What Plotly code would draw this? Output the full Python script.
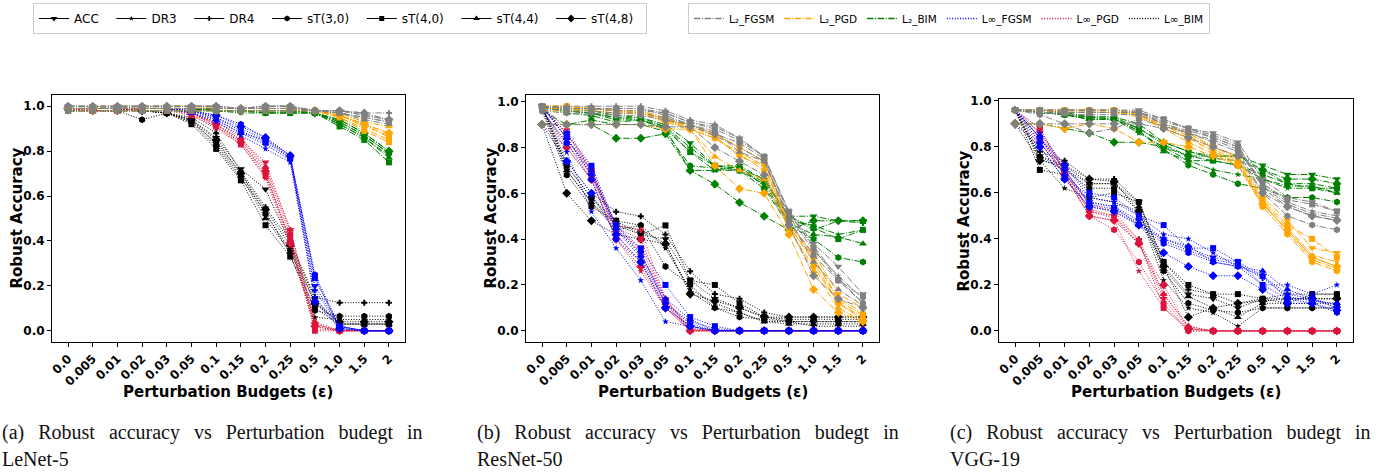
import plotly.graph_objects as go

# ---------------- data ----------------
EPS = ["0.0", "0.005", "0.01", "0.02", "0.03", "0.05", "0.1", "0.15", "0.2", "0.25", "0.5", "1.0", "1.5", "2"]
MODELS = ["ACC", "DR3", "DR4", "sT(3,0)", "sT(4,0)", "sT(4,4)", "sT(4,8)"]
ATTACKS = ["L2_FGSM", "L2_PGD", "L2_BIM", "Linf_FGSM", "Linf_PGD", "Linf_BIM"]
ATTACK_LABELS = ["L\u2082_FGSM", "L\u2082_PGD", "L\u2082_BIM", "L\u221e_FGSM", "L\u221e_PGD", "L\u221e_BIM"]
CAPTIONS = [("(a)", "LeNet-5"), ("(b)", "ResNet-50"), ("(c)", "VGG-19")]
Y_TICKS = [0.0, 0.2, 0.4, 0.6, 0.8, 1.0]

# (a) LeNet-5 : rows = ACC, DR3, DR4, sT(3,0), sT(4,0), sT(4,4), sT(4,8)
A_L2_FGSM = [
    [1.00, 1.00, 1.00, 1.00, 1.00, 1.00, 1.00, 0.99, 1.00, 1.00, 0.98, 0.98, 0.96, 0.94],
    [0.99, 0.99, 0.99, 0.99, 0.99, 0.99, 0.99, 0.99, 0.99, 0.99, 0.98, 0.97, 0.95, 0.93],
    [0.99, 0.99, 0.99, 0.99, 0.99, 0.99, 0.99, 0.99, 0.99, 0.99, 0.98, 0.98, 0.97, 0.97],
    [1.00, 1.00, 1.00, 1.00, 1.00, 1.00, 1.00, 0.99, 1.00, 1.00, 0.98, 0.98, 0.96, 0.94],
    [0.98, 0.98, 0.98, 0.98, 0.98, 0.98, 0.98, 0.98, 0.98, 0.98, 0.98, 0.97, 0.95, 0.93],
    [1.00, 1.00, 0.99, 1.00, 1.00, 1.00, 1.00, 0.99, 1.00, 1.00, 0.98, 0.97, 0.94, 0.92],
    [1.00, 1.00, 1.00, 1.00, 1.00, 1.00, 1.00, 0.99, 1.00, 1.00, 0.98, 0.98, 0.97, 0.94],
]
A_L2_PGD = [
    [0.99, 0.99, 0.99, 0.99, 0.99, 0.99, 0.99, 0.99, 0.99, 0.99, 0.98, 0.96, 0.92, 0.88],
    [0.99, 0.99, 0.99, 0.99, 0.99, 0.99, 0.99, 0.99, 0.99, 0.99, 0.98, 0.95, 0.90, 0.85],
    [0.99, 0.99, 0.99, 0.99, 0.99, 0.99, 0.99, 0.99, 0.99, 0.99, 0.98, 0.96, 0.91, 0.87],
    [0.99, 0.99, 0.99, 0.99, 0.99, 0.99, 0.99, 0.99, 0.99, 0.99, 0.98, 0.96, 0.92, 0.86],
    [0.98, 0.98, 0.98, 0.98, 0.98, 0.98, 0.98, 0.98, 0.98, 0.98, 0.98, 0.95, 0.89, 0.84],
    [1.00, 1.00, 1.00, 1.00, 1.00, 1.00, 0.99, 0.99, 0.99, 0.99, 0.98, 0.97, 0.93, 0.91],
    [0.99, 0.99, 0.99, 0.99, 0.99, 0.99, 0.99, 0.99, 0.99, 0.99, 0.98, 0.96, 0.92, 0.88],
]
A_L2_BIM = [
    [0.99, 0.99, 0.99, 0.99, 0.99, 0.99, 0.98, 0.98, 0.98, 0.98, 0.97, 0.93, 0.87, 0.79],
    [0.98, 0.98, 0.98, 0.98, 0.98, 0.98, 0.98, 0.97, 0.97, 0.97, 0.97, 0.92, 0.86, 0.78],
    [0.99, 0.99, 0.99, 0.99, 0.99, 0.99, 0.98, 0.98, 0.98, 0.98, 0.97, 0.94, 0.88, 0.80],
    [0.99, 0.99, 0.99, 0.99, 0.99, 0.99, 0.98, 0.98, 0.97, 0.97, 0.97, 0.93, 0.87, 0.79],
    [0.98, 0.98, 0.98, 0.98, 0.98, 0.98, 0.98, 0.98, 0.97, 0.97, 0.97, 0.91, 0.85, 0.75],
    [0.99, 0.99, 0.99, 0.99, 0.99, 0.99, 0.98, 0.98, 0.98, 0.98, 0.97, 0.92, 0.86, 0.77],
    [0.99, 0.99, 0.99, 0.99, 0.99, 0.99, 0.98, 0.98, 0.98, 0.98, 0.97, 0.94, 0.88, 0.80],
]
A_LINF_FGSM = [
    [0.99, 0.99, 0.99, 0.99, 0.99, 0.98, 0.95, 0.90, 0.85, 0.77, 0.20, 0.02, 0.00, 0.00],
    [0.99, 0.99, 0.99, 0.99, 0.99, 0.97, 0.93, 0.87, 0.81, 0.75, 0.15, 0.01, 0.00, 0.00],
    [0.99, 0.99, 0.99, 0.99, 0.99, 0.98, 0.94, 0.88, 0.83, 0.76, 0.18, 0.02, 0.00, 0.00],
    [0.99, 0.99, 0.99, 0.99, 0.99, 0.98, 0.96, 0.92, 0.86, 0.78, 0.25, 0.02, 0.00, 0.00],
    [0.98, 0.98, 0.98, 0.98, 0.98, 0.98, 0.95, 0.89, 0.84, 0.77, 0.24, 0.01, 0.00, 0.00],
    [0.99, 0.99, 0.99, 0.99, 0.99, 0.97, 0.94, 0.88, 0.85, 0.78, 0.23, 0.02, 0.00, 0.00],
    [0.99, 0.99, 0.99, 0.99, 0.99, 0.98, 0.96, 0.91, 0.86, 0.78, 0.13, 0.01, 0.00, 0.00],
]
A_LINF_PGD = [
    [0.99, 0.98, 0.98, 0.99, 0.99, 0.97, 0.92, 0.85, 0.75, 0.45, 0.03, 0.00, 0.00, 0.00],
    [0.99, 0.98, 0.98, 0.99, 0.99, 0.96, 0.90, 0.83, 0.68, 0.38, 0.01, 0.00, 0.00, 0.00],
    [0.99, 0.98, 0.98, 0.99, 0.99, 0.97, 0.91, 0.84, 0.70, 0.40, 0.02, 0.00, 0.00, 0.00],
    [0.99, 0.98, 0.98, 0.99, 0.99, 0.97, 0.92, 0.85, 0.72, 0.43, 0.03, 0.00, 0.00, 0.00],
    [0.98, 0.98, 0.98, 0.98, 0.98, 0.96, 0.91, 0.83, 0.69, 0.41, 0.00, 0.00, 0.00, 0.00],
    [0.99, 0.98, 0.98, 0.99, 0.99, 0.97, 0.93, 0.86, 0.73, 0.45, 0.04, 0.00, 0.00, 0.00],
    [0.99, 0.98, 0.98, 0.99, 0.99, 0.97, 0.92, 0.84, 0.71, 0.39, 0.02, 0.00, 0.00, 0.00],
]
A_LINF_BIM = [
    [0.99, 0.99, 0.99, 0.98, 0.97, 0.94, 0.86, 0.72, 0.63, 0.39, 0.14, 0.03, 0.03, 0.03],
    [0.99, 0.99, 0.99, 0.98, 0.97, 0.93, 0.82, 0.68, 0.53, 0.34, 0.06, 0.05, 0.05, 0.05],
    [0.99, 0.99, 0.99, 0.98, 0.97, 0.95, 0.88, 0.71, 0.55, 0.40, 0.15, 0.125, 0.125, 0.125],
    [0.98, 0.98, 0.98, 0.94, 0.97, 0.93, 0.84, 0.70, 0.52, 0.36, 0.09, 0.065, 0.065, 0.065],
    [0.98, 0.98, 0.98, 0.98, 0.97, 0.92, 0.81, 0.67, 0.47, 0.33, 0.10, 0.03, 0.03, 0.03],
    [0.99, 0.99, 0.99, 0.98, 0.97, 0.94, 0.83, 0.69, 0.50, 0.35, 0.13, 0.03, 0.03, 0.03],
    [0.99, 0.99, 0.99, 0.98, 0.97, 0.94, 0.85, 0.70, 0.54, 0.38, 0.12, 0.04, 0.04, 0.04],
]

# (b) ResNet-50
B_L2_FGSM = [
    [0.98, 0.97, 0.97, 0.97, 0.97, 0.95, 0.91, 0.89, 0.84, 0.76, 0.52, 0.38, 0.28, 0.16],
    [0.97, 0.96, 0.96, 0.95, 0.95, 0.93, 0.90, 0.85, 0.80, 0.74, 0.50, 0.35, 0.24, 0.14],
    [0.98, 0.98, 0.98, 0.98, 0.98, 0.96, 0.92, 0.90, 0.84, 0.76, 0.51, 0.37, 0.23, 0.12],
    [0.96, 0.95, 0.95, 0.94, 0.94, 0.92, 0.90, 0.86, 0.82, 0.75, 0.48, 0.33, 0.22, 0.12],
    [0.98, 0.97, 0.97, 0.96, 0.96, 0.95, 0.91, 0.88, 0.83, 0.76, 0.52, 0.36, 0.22, 0.15],
    [0.98, 0.97, 0.97, 0.97, 0.97, 0.94, 0.90, 0.87, 0.78, 0.74, 0.49, 0.30, 0.18, 0.11],
    [0.90, 0.90, 0.90, 0.90, 0.90, 0.89, 0.89, 0.80, 0.74, 0.68, 0.46, 0.24, 0.14, 0.10],
]
B_L2_PGD = [
    [0.98, 0.98, 0.97, 0.96, 0.96, 0.92, 0.90, 0.86, 0.80, 0.74, 0.46, 0.34, 0.16, 0.10],
    [0.97, 0.97, 0.96, 0.95, 0.95, 0.92, 0.88, 0.84, 0.78, 0.72, 0.46, 0.30, 0.12, 0.06],
    [0.98, 0.98, 0.97, 0.96, 0.96, 0.93, 0.89, 0.85, 0.76, 0.72, 0.45, 0.32, 0.14, 0.08],
    [0.96, 0.96, 0.96, 0.95, 0.95, 0.91, 0.88, 0.84, 0.77, 0.70, 0.44, 0.28, 0.12, 0.05],
    [0.98, 0.98, 0.97, 0.96, 0.96, 0.92, 0.89, 0.86, 0.80, 0.74, 0.47, 0.32, 0.13, 0.07],
    [0.98, 0.98, 0.97, 0.96, 0.95, 0.92, 0.88, 0.76, 0.70, 0.66, 0.45, 0.26, 0.10, 0.04],
    [0.90, 0.90, 0.90, 0.90, 0.90, 0.88, 0.88, 0.72, 0.62, 0.60, 0.42, 0.18, 0.08, 0.04],
]
B_L2_BIM = [
    [0.98, 0.97, 0.96, 0.94, 0.93, 0.90, 0.82, 0.72, 0.72, 0.66, 0.50, 0.50, 0.48, 0.48],
    [0.97, 0.96, 0.95, 0.92, 0.92, 0.88, 0.78, 0.70, 0.70, 0.64, 0.48, 0.46, 0.42, 0.44],
    [0.98, 0.96, 0.95, 0.93, 0.92, 0.89, 0.80, 0.72, 0.71, 0.66, 0.50, 0.44, 0.48, 0.47],
    [0.96, 0.90, 0.92, 0.90, 0.90, 0.87, 0.72, 0.71, 0.70, 0.62, 0.46, 0.40, 0.32, 0.30],
    [0.98, 0.96, 0.95, 0.93, 0.93, 0.89, 0.78, 0.72, 0.70, 0.65, 0.50, 0.45, 0.40, 0.44],
    [0.98, 0.95, 0.94, 0.91, 0.92, 0.88, 0.70, 0.70, 0.72, 0.63, 0.47, 0.42, 0.41, 0.38],
    [0.90, 0.90, 0.90, 0.84, 0.84, 0.86, 0.70, 0.64, 0.56, 0.50, 0.44, 0.48, 0.48, 0.48],
]
B_LINF_FGSM = [
    [0.98, 0.84, 0.68, 0.46, 0.34, 0.12, 0.03, 0.00, 0.00, 0.00, 0.00, 0.00, 0.00, 0.00],
    [0.97, 0.78, 0.52, 0.36, 0.22, 0.04, 0.02, 0.00, 0.00, 0.00, 0.00, 0.00, 0.00, 0.00],
    [0.98, 0.84, 0.68, 0.44, 0.32, 0.12, 0.04, 0.01, 0.00, 0.00, 0.00, 0.00, 0.00, 0.00],
    [0.96, 0.82, 0.66, 0.40, 0.30, 0.10, 0.02, 0.00, 0.00, 0.00, 0.00, 0.00, 0.00, 0.00],
    [0.98, 0.86, 0.72, 0.46, 0.36, 0.20, 0.06, 0.02, 0.00, 0.00, 0.00, 0.00, 0.00, 0.00],
    [0.98, 0.84, 0.70, 0.45, 0.33, 0.14, 0.05, 0.00, 0.00, 0.00, 0.00, 0.00, 0.00, 0.00],
    [0.90, 0.74, 0.60, 0.42, 0.30, 0.10, 0.02, 0.00, 0.00, 0.00, 0.00, 0.00, 0.00, 0.00],
]
B_LINF_PGD = [
    [0.98, 0.86, 0.70, 0.44, 0.36, 0.14, 0.00, 0.00, 0.00, 0.00, 0.00, 0.00, 0.00, 0.00],
    [0.97, 0.80, 0.66, 0.40, 0.26, 0.10, 0.00, 0.00, 0.00, 0.00, 0.00, 0.00, 0.00, 0.00],
    [0.98, 0.88, 0.70, 0.46, 0.44, 0.14, 0.01, 0.00, 0.00, 0.00, 0.00, 0.00, 0.00, 0.00],
    [0.96, 0.82, 0.68, 0.42, 0.30, 0.12, 0.00, 0.00, 0.00, 0.00, 0.00, 0.00, 0.00, 0.00],
    [0.98, 0.86, 0.70, 0.45, 0.40, 0.13, 0.01, 0.00, 0.00, 0.00, 0.00, 0.00, 0.00, 0.00],
    [0.98, 0.84, 0.69, 0.44, 0.34, 0.12, 0.00, 0.00, 0.00, 0.00, 0.00, 0.00, 0.00, 0.00],
    [0.90, 0.80, 0.66, 0.40, 0.28, 0.10, 0.00, 0.00, 0.00, 0.00, 0.00, 0.00, 0.00, 0.00],
]
B_LINF_BIM = [
    [0.98, 0.72, 0.58, 0.46, 0.42, 0.40, 0.22, 0.14, 0.10, 0.06, 0.04, 0.04, 0.04, 0.04],
    [0.97, 0.70, 0.56, 0.44, 0.46, 0.36, 0.18, 0.12, 0.08, 0.04, 0.04, 0.02, 0.02, 0.02],
    [0.98, 0.74, 0.60, 0.52, 0.50, 0.42, 0.26, 0.16, 0.14, 0.08, 0.06, 0.06, 0.06, 0.06],
    [0.96, 0.68, 0.54, 0.48, 0.46, 0.28, 0.20, 0.10, 0.06, 0.05, 0.04, 0.04, 0.04, 0.04],
    [0.98, 0.72, 0.58, 0.48, 0.42, 0.46, 0.22, 0.20, 0.12, 0.06, 0.05, 0.05, 0.05, 0.05],
    [0.98, 0.70, 0.56, 0.46, 0.44, 0.38, 0.17, 0.10, 0.08, 0.04, 0.03, 0.03, 0.03, 0.03],
    [0.90, 0.60, 0.48, 0.42, 0.40, 0.38, 0.16, 0.13, 0.10, 0.06, 0.06, 0.06, 0.06, 0.06],
]

# (c) VGG-19
C_L2_FGSM = [
    [0.96, 0.96, 0.96, 0.96, 0.96, 0.96, 0.92, 0.88, 0.86, 0.82, 0.66, 0.58, 0.56, 0.52],
    [0.96, 0.95, 0.95, 0.95, 0.95, 0.95, 0.90, 0.87, 0.84, 0.80, 0.64, 0.56, 0.52, 0.50],
    [0.96, 0.96, 0.96, 0.96, 0.96, 0.95, 0.91, 0.88, 0.85, 0.81, 0.62, 0.54, 0.50, 0.48],
    [0.96, 0.94, 0.90, 0.86, 0.88, 0.92, 0.89, 0.86, 0.82, 0.78, 0.60, 0.50, 0.46, 0.44],
    [0.96, 0.96, 0.95, 0.95, 0.95, 0.95, 0.92, 0.88, 0.84, 0.80, 0.64, 0.57, 0.55, 0.52],
    [0.96, 0.95, 0.94, 0.94, 0.94, 0.94, 0.90, 0.86, 0.83, 0.79, 0.63, 0.55, 0.51, 0.49],
    [0.90, 0.90, 0.90, 0.90, 0.90, 0.90, 0.88, 0.84, 0.80, 0.76, 0.60, 0.54, 0.50, 0.48],
]
C_L2_PGD = [
    [0.96, 0.96, 0.96, 0.96, 0.96, 0.95, 0.90, 0.86, 0.80, 0.76, 0.58, 0.48, 0.36, 0.34],
    [0.96, 0.96, 0.95, 0.95, 0.95, 0.94, 0.89, 0.85, 0.79, 0.74, 0.56, 0.45, 0.33, 0.30],
    [0.96, 0.96, 0.95, 0.95, 0.95, 0.94, 0.88, 0.84, 0.78, 0.73, 0.55, 0.44, 0.32, 0.28],
    [0.96, 0.96, 0.95, 0.95, 0.95, 0.93, 0.88, 0.82, 0.77, 0.72, 0.54, 0.42, 0.30, 0.26],
    [0.96, 0.96, 0.96, 0.96, 0.96, 0.94, 0.89, 0.86, 0.80, 0.75, 0.57, 0.46, 0.40, 0.32],
    [0.96, 0.96, 0.95, 0.95, 0.95, 0.94, 0.88, 0.84, 0.78, 0.73, 0.56, 0.43, 0.31, 0.27],
    [0.90, 0.90, 0.88, 0.90, 0.88, 0.82, 0.82, 0.80, 0.76, 0.72, 0.55, 0.44, 0.32, 0.28],
]
C_L2_BIM = [
    [0.96, 0.95, 0.94, 0.93, 0.92, 0.88, 0.82, 0.78, 0.76, 0.76, 0.72, 0.68, 0.68, 0.66],
    [0.96, 0.95, 0.94, 0.92, 0.92, 0.86, 0.80, 0.74, 0.70, 0.68, 0.66, 0.62, 0.62, 0.60],
    [0.96, 0.95, 0.95, 0.93, 0.93, 0.90, 0.82, 0.78, 0.75, 0.74, 0.70, 0.64, 0.64, 0.62],
    [0.96, 0.95, 0.94, 0.92, 0.92, 0.87, 0.79, 0.72, 0.68, 0.64, 0.62, 0.58, 0.58, 0.56],
    [0.96, 0.95, 0.94, 0.93, 0.93, 0.88, 0.81, 0.76, 0.74, 0.72, 0.68, 0.64, 0.62, 0.62],
    [0.96, 0.95, 0.94, 0.92, 0.92, 0.87, 0.78, 0.74, 0.74, 0.72, 0.66, 0.63, 0.63, 0.60],
    [0.90, 0.90, 0.88, 0.86, 0.82, 0.82, 0.80, 0.76, 0.76, 0.76, 0.70, 0.66, 0.66, 0.64],
]
C_LINF_FGSM = [
    [0.96, 0.84, 0.70, 0.56, 0.54, 0.48, 0.40, 0.36, 0.32, 0.30, 0.24, 0.16, 0.14, 0.10],
    [0.96, 0.86, 0.72, 0.58, 0.56, 0.50, 0.42, 0.40, 0.34, 0.28, 0.20, 0.20, 0.16, 0.20],
    [0.96, 0.84, 0.70, 0.55, 0.53, 0.47, 0.39, 0.35, 0.31, 0.29, 0.23, 0.15, 0.13, 0.12],
    [0.96, 0.80, 0.66, 0.54, 0.52, 0.46, 0.38, 0.34, 0.30, 0.28, 0.24, 0.14, 0.12, 0.08],
    [0.96, 0.84, 0.72, 0.60, 0.58, 0.50, 0.46, 0.36, 0.36, 0.30, 0.20, 0.14, 0.14, 0.10],
    [0.96, 0.82, 0.68, 0.56, 0.54, 0.46, 0.40, 0.37, 0.30, 0.28, 0.26, 0.18, 0.14, 0.11],
    [0.90, 0.80, 0.66, 0.54, 0.52, 0.46, 0.34, 0.28, 0.24, 0.24, 0.18, 0.12, 0.12, 0.09],
]
C_LINF_PGD = [
    [0.96, 0.86, 0.70, 0.52, 0.50, 0.38, 0.14, 0.01, 0.00, 0.00, 0.00, 0.00, 0.00, 0.00],
    [0.96, 0.82, 0.68, 0.50, 0.48, 0.26, 0.10, 0.00, 0.00, 0.00, 0.00, 0.00, 0.00, 0.00],
    [0.96, 0.88, 0.69, 0.53, 0.50, 0.40, 0.16, 0.02, 0.00, 0.00, 0.00, 0.00, 0.00, 0.00],
    [0.96, 0.84, 0.68, 0.50, 0.44, 0.30, 0.12, 0.00, 0.00, 0.00, 0.00, 0.00, 0.00, 0.00],
    [0.96, 0.88, 0.70, 0.55, 0.52, 0.39, 0.10, 0.01, 0.00, 0.00, 0.00, 0.00, 0.00, 0.00],
    [0.96, 0.84, 0.68, 0.52, 0.49, 0.38, 0.16, 0.02, 0.00, 0.00, 0.00, 0.00, 0.00, 0.00],
    [0.90, 0.82, 0.68, 0.50, 0.48, 0.38, 0.20, 0.01, 0.00, 0.00, 0.00, 0.00, 0.00, 0.00],
]
C_LINF_BIM = [
    [0.96, 0.76, 0.72, 0.64, 0.64, 0.56, 0.28, 0.16, 0.14, 0.10, 0.14, 0.14, 0.14, 0.14],
    [0.96, 0.74, 0.62, 0.58, 0.56, 0.52, 0.22, 0.10, 0.08, 0.02, 0.10, 0.10, 0.10, 0.10],
    [0.96, 0.78, 0.74, 0.66, 0.66, 0.56, 0.30, 0.18, 0.16, 0.12, 0.14, 0.16, 0.16, 0.16],
    [0.96, 0.75, 0.70, 0.62, 0.62, 0.52, 0.26, 0.12, 0.09, 0.08, 0.10, 0.10, 0.10, 0.10],
    [0.96, 0.70, 0.68, 0.58, 0.60, 0.56, 0.30, 0.20, 0.16, 0.16, 0.14, 0.12, 0.16, 0.16],
    [0.96, 0.76, 0.70, 0.64, 0.64, 0.54, 0.27, 0.15, 0.10, 0.06, 0.12, 0.12, 0.12, 0.12],
    [0.90, 0.74, 0.72, 0.66, 0.65, 0.52, 0.28, 0.06, 0.10, 0.12, 0.13, 0.14, 0.14, 0.14],
]

PANELS = [
    [A_L2_FGSM, A_L2_PGD, A_L2_BIM, A_LINF_FGSM, A_LINF_PGD, A_LINF_BIM],
    [B_L2_FGSM, B_L2_PGD, B_L2_BIM, B_LINF_FGSM, B_LINF_PGD, B_LINF_BIM],
    [C_L2_FGSM, C_L2_PGD, C_L2_BIM, C_LINF_FGSM, C_LINF_PGD, C_LINF_BIM],
]

# ---------------- styles ----------------
W, H = 1390, 472
ATTACK_COLORS = ["#808080", "#FFA500", "#008000", "#0000FF", "#DC143C", "#000000"]
DASH_L2 = "6.4px,1.6px,1px,1.6px"
DASH_LINF = "1px,1.65px"
ATTACK_DASH = [DASH_L2, DASH_L2, DASH_L2, DASH_LINF, DASH_LINF, DASH_LINF]
MODEL_SYMBOLS = ["triangle-down", "star", "cross", "hexagon", "square", "triangle-up", "diamond"]
MODEL_SIZES = [7, 5, 5, 7, 6, 7, 7]
DRAW_ORDER = [5, 4, 3, 2, 1, 0]

# pixel boxes of the three plot areas (left, right, top, bottom)
BOXES = [(52, 405, 95, 342), (526, 879, 95, 342), (999, 1353, 99, 342)]
YRANGES = [[-0.05, 1.05], [-0.049, 1.029], [-0.048, 1.008]]
CAP_X = [0, 475, 948]

def fx(p):
    return p / W

def fy(p):
    return 1 - p / H

fig = go.Figure()

for pi, panel in enumerate(PANELS):
    xa = "x" if pi == 0 else f"x{pi + 1}"
    ya = "y" if pi == 0 else f"y{pi + 1}"
    for ai in DRAW_ORDER:
        series = panel[ai]
        for mi, vals in enumerate(series):
            fig.add_trace(go.Scatter(
                x=EPS, y=vals, mode="lines+markers", xaxis=xa, yaxis=ya,
                showlegend=False,
                line=dict(color=ATTACK_COLORS[ai], width=1, dash=ATTACK_DASH[ai]),
                marker=dict(symbol=MODEL_SYMBOLS[mi], size=MODEL_SIZES[mi],
                            color=ATTACK_COLORS[ai], line=dict(width=0)),
                name=f"{MODELS[mi]} {ATTACKS[ai]}",
            ))

# legend entries (no data)
PAD = "\u00a0\u00a0"
for mi, m in enumerate(MODELS):
    fig.add_trace(go.Scatter(
        x=[None], y=[None], mode="lines+markers", name=m + PAD, legend="legend",
        line=dict(color="black", width=1),
        marker=dict(symbol=MODEL_SYMBOLS[mi], size=MODEL_SIZES[mi] - 1, color="black"),
    ))
for ai, lab in enumerate(ATTACK_LABELS):
    fig.add_trace(go.Scatter(
        x=[None], y=[None], mode="lines", name=lab, legend="legend2",
        line=dict(color=ATTACK_COLORS[ai], width=1.3, dash=ATTACK_DASH[ai]),
    ))

axis_common = dict(
    showline=True, linecolor="black", linewidth=1, mirror=True,
    ticks="outside", ticklen=4, tickwidth=1, tickcolor="black",
    showgrid=False, zeroline=False,
    tickfont=dict(family="DejaVu Sans", size=12, color="black", weight="bold"),
)

layout = dict(
    width=W, height=H, margin=dict(l=0, r=0, t=0, b=0, autoexpand=False),
    paper_bgcolor="white", plot_bgcolor="white",
    font=dict(family="DejaVu Sans", color="black"),
)
annotations = []
for pi, (l, r, t, b) in enumerate(BOXES):
    sfx = "" if pi == 0 else str(pi + 1)
    layout["xaxis" + sfx] = dict(
        axis_common, domain=[fx(l), fx(r)], anchor="y" + sfx,
        type="category", range=[-0.65, 13.65], tickangle=-45,
        categoryorder="array", categoryarray=EPS,
    )
    layout["yaxis" + sfx] = dict(
        axis_common, domain=[fy(b), fy(t)], anchor="x" + sfx,
        range=YRANGES[pi], tickvals=Y_TICKS, tickformat=".1f",
    )
    annotations.append(dict(
        text="Perturbation Budgets (\u03b5)", xref="paper", yref="paper",
        x=fx((l + r) / 2), y=fy(392), xanchor="center", yanchor="middle",
        showarrow=False, font=dict(family="DejaVu Sans", size=15, weight="bold", color="black"),
    ))
    annotations.append(dict(
        text="Robust Accuracy", xref="paper", yref="paper",
        x=fx(l - 35), y=fy((t + b) / 2), xanchor="center", yanchor="middle",
        textangle=-90, showarrow=False,
        font=dict(family="DejaVu Sans", size=15, weight="bold", color="black"),
    ))
    sp = "\u2002\u2009"
    line1 = sp.join([CAPTIONS[pi][0], "Robust", "accuracy", "vs", "Perturbation", "budegt", "in"])
    annotations.append(dict(
        text=line1, xref="paper", yref="paper", x=fx(CAP_X[pi]), y=fy(432),
        xanchor="left", yanchor="middle", showarrow=False,
        font=dict(family="Liberation Serif", size=20, color="#111111"),
    ))
    annotations.append(dict(
        text=CAPTIONS[pi][1], xref="paper", yref="paper", x=fx(CAP_X[pi]), y=fy(459),
        xanchor="left", yanchor="middle", showarrow=False,
        font=dict(family="Liberation Serif", size=20, color="#111111"),
    ))

layout["annotations"] = annotations
leg_common = dict(
    orientation="h", bgcolor="white", bordercolor="#cccccc", borderwidth=1,
    font=dict(family="DejaVu Sans", size=12, color="black"),
    xanchor="left", yanchor="top", itemwidth=30,
)
layout["legend"] = dict(leg_common, x=fx(33), y=fy(3))
layout["legend2"] = dict(leg_common, x=fx(688), y=fy(3),
                         font=dict(family="DejaVu Sans", size=10.5, color="black"))

fig.update_layout(**layout)
fig.write_html(
    "out.html",
    config={"displayModeBar": False},
    post_script="document.body.style.margin='0';document.body.style.overflow='hidden';",
)
